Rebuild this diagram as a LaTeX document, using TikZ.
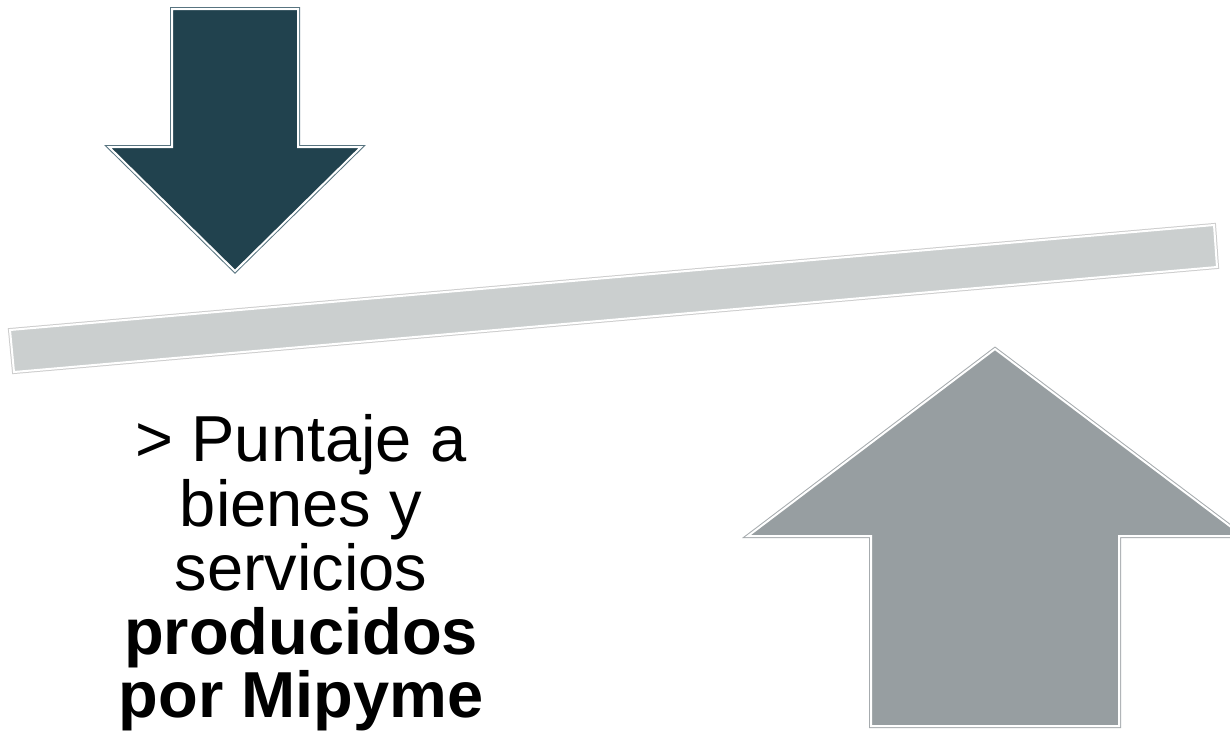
\documentclass[tikz,border=0pt]{standalone}
\usepackage{fontspec}
\setmainfont{Liberation Sans}
\definecolor{darkfill}{HTML}{21424E}
\definecolor{darkline}{HTML}{587480}
\definecolor{barfill}{HTML}{CBCFCF}
\definecolor{barline}{HTML}{CDCDCD}
\definecolor{upfill}{HTML}{979EA1}
\definecolor{upline}{HTML}{A6ABAE}
\tikzset{
  lbl/.style={anchor=base, inner sep=0pt, font=\fontsize{65pt}{65pt}\selectfont},
  lblb/.style={lbl, font=\fontsize{65pt}{65pt}\selectfont\bfseries},
}
\newcommand{\gshape}[3]{%
  \draw[#2, line width=4pt, line join=miter] #1;
  \fill[#3] #1;
  \draw[white, line width=2pt, line join=miter] #1;
}
\begin{document}
\begin{tikzpicture}[x=1pt, y=-1pt]
\useasboundingbox[fill=white] (0,0) rectangle (1230,740);
% balance bar
\gshape{(10,330) -- (1214,225) -- (1217,267) -- (14,372) -- cycle}{barline}{barfill}
% down arrow
\gshape{(172,9) -- (298,9) -- (298,147) -- (361,147) -- (235,271) -- (109,147) -- (172,147) -- cycle}{darkline}{darkfill}
% up arrow
\gshape{(995,349) -- (1243,536) -- (1119,536) -- (1119,726) -- (871,726) -- (871,536) -- (748,536) -- cycle}{upline}{upfill}
% text
\node[lbl] (t1) at (301,461) {> Puntaje a};
\node[lbl] (t2) at (301,526) {bienes y};
\node[lbl] (t3) at (301,590) {servicios};
\node[lblb] (t4) at (301,654) {producidos};
\node[lblb] (t5) at (301,717) {por Mipyme};
\end{tikzpicture}
\end{document}
